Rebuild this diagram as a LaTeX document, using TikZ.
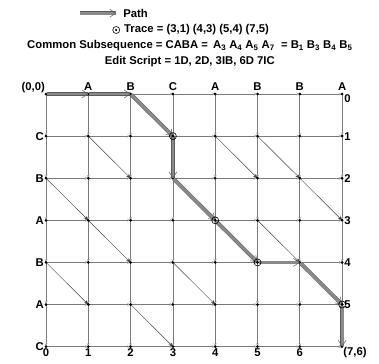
\documentclass[tikz,border=0pt]{standalone}
\usepackage{fontspec}
\setmainfont{Liberation Sans}
\usetikzlibrary{arrows.meta}
\definecolor{edge}{HTML}{7A7A7A}
\definecolor{tip}{HTML}{B0B0B0}
\definecolor{diag}{HTML}{404040}
\definecolor{pathfill}{HTML}{8A8A8A}
\definecolor{pathline}{HTML}{5A5A5A}

\begin{document}
\begin{tikzpicture}[
  x=42.3pt,y=-42.1pt,
  font=\bfseries\fontsize{11.3}{13}\selectfont,
  gridarrow/.style={-{Stealth[length=3.5pt,width=3pt,color=tip]},draw=edge,line width=0.7pt},
  diagarrow/.style={-{Stealth[length=4.5pt,width=3.5pt]},draw=diag,line width=0.45pt},
  patharrow/.style={-{Straight Barb[length=6pt,width=8pt]},draw=pathline,line width=0.5pt,double=pathfill,double distance=2.8pt},
  dot/.style={circle,fill=black,inner sep=0pt,minimum size=3pt},
  trace/.style={circle,draw=black,fill=white,line width=0.6pt,inner sep=0pt,minimum size=7pt},
  lab/.style={inner sep=1pt}
]
  \useasboundingbox (-1.0875,-2.233) rectangle (7.872,6.39);

  % header
  \coordinate (leg-a) at (0.80,-1.92);
  \coordinate (leg-b) at (1.66,-1.92);
  \draw[patharrow] (leg-a) -- (leg-b);
  \node[lab,anchor=west] (leg-path) at (1.80,-1.92) {Path};
  \node[trace] (leg-dot) at (1.66,-1.52) {};
  \node[dot,minimum size=2.5pt] at (leg-dot) {};
  \node[lab,anchor=west] (leg-trace) at (1.82,-1.52) {Trace = (3,1) (4,3) (5,4) (7,5)};
  \node[lab] (common) at (3.40,-1.14) {Common Subsequence = CABA =\ \,A\textsubscript{3} A\textsubscript{4} A\textsubscript{5} A\textsubscript{7}\ \ = B\textsubscript{1} B\textsubscript{3} B\textsubscript{4} B\textsubscript{5}};
  \node[lab] (script) at (3.40,-0.78) {Edit Script = 1D, 2D, 3IB, 6D 7IC};

  % grid points
  \foreach \x in {0,...,7}
    \foreach \y in {0,...,6}
      \coordinate (p-\x-\y) at (\x,\y);

  % horizontal edges
  \foreach \x in {0,...,6}
    \foreach \y in {0,...,6}{
      \pgfmathtruncatemacro{\xn}{\x+1}
      \draw[gridarrow] (p-\x-\y) -- (p-\xn-\y);
    }
  % vertical edges
  \foreach \x in {0,...,7}
    \foreach \y in {0,...,5}{
      \pgfmathtruncatemacro{\yn}{\y+1}
      \draw[gridarrow] (p-\x-\y) -- (p-\x-\yn);
    }

  % match diagonals
  \foreach \x/\y in {3/1,2/2,5/2,6/2,1/3,4/3,7/3,2/4,5/4,6/4,1/5,4/5,7/5,3/6}{
    \pgfmathtruncatemacro{\xp}{\x-1}
    \pgfmathtruncatemacro{\yp}{\y-1}
    \draw[diagarrow] (p-\xp-\yp) -- (p-\x-\y);
  }

  % dots
  \foreach \x in {0,...,7}
    \foreach \y in {0,...,6}
      \node[dot] at (p-\x-\y) {};

  % path
  \foreach \a/\b in {0-0/1-0,1-0/2-0,2-0/3-1,3-1/3-2,3-2/4-3,4-3/5-4,5-4/6-4,6-4/7-5,7-5/7-6}
    \draw[patharrow,shorten <=1pt] (p-\a) -- (p-\b);

  % trace points
  \foreach \t in {3-1,4-3,5-4,7-5}{
    \node[trace,fill=none] at (p-\t) {};
    \node[dot] at (p-\t) {};
  }

  % labels
  \foreach \c [count=\i] in {A,B,C,A,B,B,A}
    \node[lab,anchor=south] at (p-\i-0) [yshift=2pt] {\c};
  \foreach \c [count=\i] in {C,B,A,B,A,C}
    \node[lab,anchor=east] at (p-0-\i) [xshift=-1pt] {\c};
  \foreach \i in {1,...,5}
    \node[lab,anchor=west] at (p-7-\i) [xshift=1pt] {\i};
  \node[lab,anchor=north west] at (p-7-0) [xshift=1pt,yshift=1pt] {0};
  \foreach \i in {0,...,6}
    \node[lab,anchor=north] at (p-\i-6) [yshift=-1pt] {\i};
  \node[lab,anchor=south east] (origin) at (p-0-0) {(0,0)};
  \node[lab,anchor=north west] (goal) at (p-7-6) [yshift=1pt] {(7,6)};
\end{tikzpicture}
\end{document}
